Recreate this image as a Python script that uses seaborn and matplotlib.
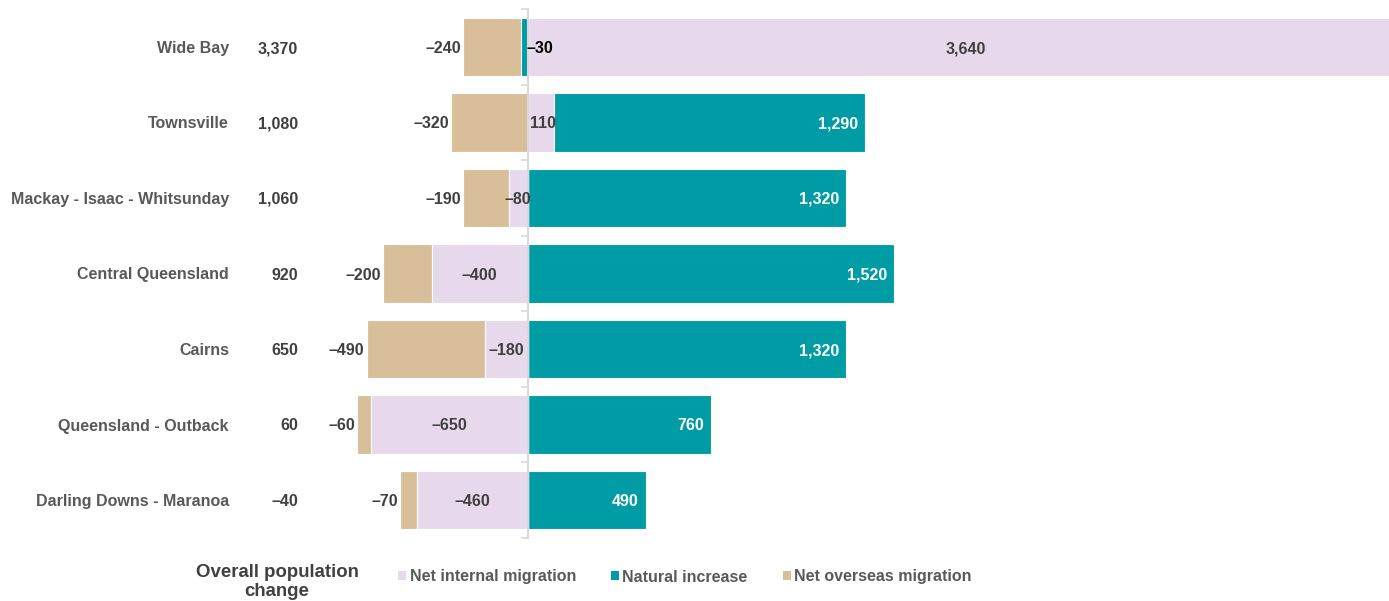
import numpy as np
import pandas as pd
import matplotlib
matplotlib.use("Agg")
import matplotlib.pyplot as plt
from matplotlib.patches import Patch
from matplotlib.transforms import blended_transform_factory
import seaborn as sns

# Regional population change components
regions = ["Wide Bay", "Townsville", "Mackay - Isaac - Whitsunday", "Central Queensland",
           "Cairns", "Queensland - Outback", "Darling Downs - Maranoa"]
overall = [3370, 1080, 1060, 920, 650, 60, -40]
net_internal = [3640, 110, -80, -400, -180, -650, -460]
natural_increase = [-30, 1290, 1320, 1520, 1320, 760, 490]
net_overseas = [-240, -320, -190, -200, -490, -60, -70]

series_names = ["Net internal migration", "Natural increase", "Net overseas migration"]
colors = ["#E8D8EC", "#009CA6", "#D8BF9A"]

sns.set_theme(style="white")
plt.rcParams["font.family"] = ["Liberation Sans", "DejaVu Sans"]

W, H = 1389, 601
fig = plt.figure(figsize=(W / 100, H / 100), dpi=100)
ax = fig.add_axes([330 / W, 1 - 537.75 / H, 1 - 330 / W, (537.75 - 9.25) / H])

vals = np.array([net_internal, natural_increase, net_overseas], dtype=float)
pos = np.clip(vals, 0, None)
neg = np.clip(vals, None, 0)
pos_cum = np.cumsum(pos, axis=0)
neg_cum = np.cumsum(neg, axis=0)

# Stack each side by drawing cumulative layers from the outside in
for cum in (pos_cum, neg_cum):
    for k in range(2, -1, -1):
        df = pd.DataFrame({"region": regions, "value": cum[k]})
        sns.barplot(data=df, x="value", y="region", order=regions, orient="h",
                    color=colors[k], saturation=1, width=0.77,
                    edgecolor="white", linewidth=0.8, ax=ax, zorder=2)

ax.set_xlim(-822, 3576)
ax.set_ylim(6.5, -0.5)
ax.set_xlabel("")
ax.set_ylabel("")
ax.set_xticks([])
ax.set_yticks([])
for s in ["top", "right", "bottom"]:
    ax.spines[s].set_visible(False)
ax.spines["left"].set_position(("data", 0))
ax.spines["left"].set_color("#D9D9D9")
ax.spines["left"].set_linewidth(1.5)
ax.spines["left"].set_zorder(5)
ax.set_yticks(np.arange(-0.5, 7.0, 1.0), minor=True)
ax.tick_params(axis="y", which="minor", left=True, length=5, width=1.2,
               color="#D9D9D9", direction="out")

label_color = "#404040"
fs = 11.5
va = "center_baseline"
for i in range(len(regions)):
    # Net internal migration
    v = net_internal[i]
    if v >= 0:
        lo, hi = 0, pos_cum[0, i]
    else:
        lo, hi = neg_cum[0, i], 0
    ax.annotate(f"{v:,}".replace("-", "\u2013"), ((lo + hi) / 2, i),
                xytext=(1.5 if 0 < v < 300 else 0, 0), textcoords="offset points",
                ha="center", va=va, fontsize=fs, fontweight="bold",
                color=label_color, zorder=6, annotation_clip=False)
    # Natural increase
    v = natural_increase[i]
    if v >= 0:
        ax.annotate(f"{v:,}", (pos_cum[1, i], i), xytext=(-5, 0), textcoords="offset points",
                    ha="right", va=va, fontsize=fs, fontweight="bold", color="white", zorder=6)
    else:
        ax.annotate(f"{v:,}".replace("-", "\u2013"), (0, i), xytext=(-1, 0),
                    textcoords="offset points", ha="left", va=va, fontsize=fs,
                    fontweight="bold", color="black", zorder=6)
    # Net overseas migration
    v = net_overseas[i]
    ax.annotate(f"{v:,}".replace("-", "\u2013"), (neg_cum[2, i], i), xytext=(-1.5, 0),
                textcoords="offset points", ha="right", va=va, fontsize=fs,
                fontweight="bold", color=label_color, zorder=6)

# Region names and overall change columns
tr = blended_transform_factory(fig.transFigure, ax.transData)
for i, (name, tot) in enumerate(zip(regions, overall)):
    ax.text(229 / W, i, name, transform=tr, ha="right", va=va, fontsize=fs,
            fontweight="bold", color="#595959")
    ax.text(298 / W, i, f"{tot:,}".replace("-", "\u2013"), transform=tr, ha="right",
            va=va, fontsize=fs, fontweight="bold", color="#404040")

fig.text(277 / W, 1 - 582 / H, "Overall population\nchange", ha="center", va="center",
         fontsize=13.4, fontweight="bold", color="#404040", linespacing=1.2)

handles = [Patch(facecolor=c, edgecolor="none") for c in colors]
leg = fig.legend(handles, series_names, loc="center left", ncol=3, frameon=False,
                 bbox_to_anchor=(384 / W, 1 - 577 / H), handlelength=0.5, handleheight=0.5,
                 handletextpad=0.2, columnspacing=2.2,
                 prop={"size": fs, "weight": "bold"})
for t in leg.get_texts():
    t.set_color("#595959")

fig.savefig("out.png", dpi=100, facecolor="white")
